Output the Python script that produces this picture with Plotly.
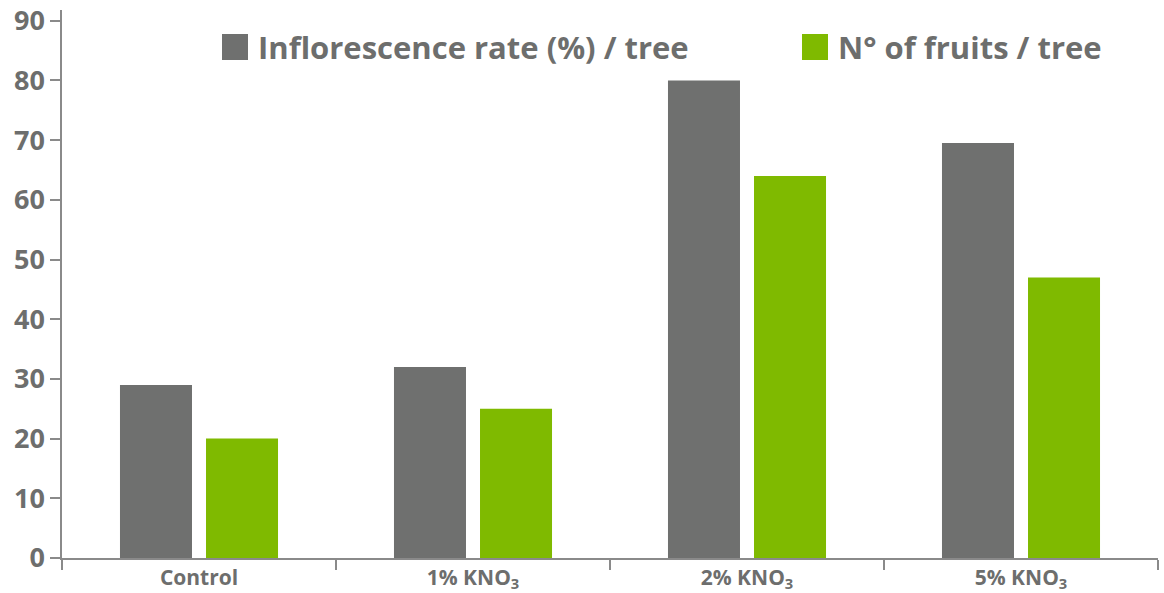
import plotly.graph_objects as go

# Treatments and measured values
treatments = ["Control", "1% KNO<sub>3</sub>", "2% KNO<sub>3</sub>", "5% KNO<sub>3</sub>"]
inflorescence_rate = [29, 32, 80, 69.5]
fruits_per_tree = [20, 25, 64, 47]
series_names = ["Inflorescence rate (%) / tree", "N° of fruits / tree"]
y_ticks = [0, 10, 20, 30, 40, 50, 60, 70, 80, 90]

GRAY = "#6f706f"
GREEN = "#7fba00"
TEXT = "#6d6e6d"
AXIS = "#8a8a8a"
FONT = "Open Sans"

W, H = 1164, 593
L, R, T, B = 62, 6, 10, 35
PW, PH = W - L - R, H - T - B

fig = go.Figure()
fig.add_trace(go.Bar(x=treatments, y=inflorescence_rate, name=series_names[0],
                     marker=dict(color=GRAY, line=dict(width=0)), showlegend=False))
fig.add_trace(go.Bar(x=treatments, y=fruits_per_tree, name=series_names[1],
                     marker=dict(color=GREEN, line=dict(width=0)), showlegend=False))

# Legend drawn as coloured squares with labels above the plot
legend_items = [(series_names[0], GRAY, 222), (series_names[1], GREEN, 802)]
for label, color, px in legend_items:
    fig.add_shape(type="rect", xref="paper", yref="paper",
                  x0=(px - L) / PW, x1=(px + 26 - L) / PW,
                  y0=(H - B - 60) / PH, y1=(H - B - 34) / PH,
                  fillcolor=color, line=dict(width=0))
    fig.add_annotation(text=f"<b>{label}</b>", xref="paper", yref="paper",
                       x=(px + 34 - L) / PW, y=(H - B - 47) / PH,
                       xanchor="left", yanchor="middle", showarrow=False,
                       font=dict(family=FONT, size=31, color=TEXT))

fig.update_layout(
    width=W, height=H,
    margin=dict(l=L, r=R, t=T, b=B),
    barmode="group", bargap=0.372, bargroupgap=0.163,
    plot_bgcolor="white", paper_bgcolor="white",
    font=dict(family=FONT, color=TEXT),
    xaxis=dict(showline=True, linecolor=AXIS, linewidth=1.5, automargin=False,
               ticks="outside", tickson="boundaries", ticklen=10,
               tickcolor=AXIS, tickwidth=1.5, showgrid=False,
               tickfont=dict(family=FONT, size=21, color=TEXT, weight="bold")),
    yaxis=dict(range=[0, 91.8], tickvals=y_ticks, showline=True, linecolor=AXIS,
               linewidth=1.5, ticks="outside", ticklen=10, tickcolor=AXIS,
               tickwidth=1.5, showgrid=False, zeroline=False, automargin=False,
               tickfont=dict(family=FONT, size=27, color=TEXT, weight="bold")),
)

fig.write_html("out.html")
